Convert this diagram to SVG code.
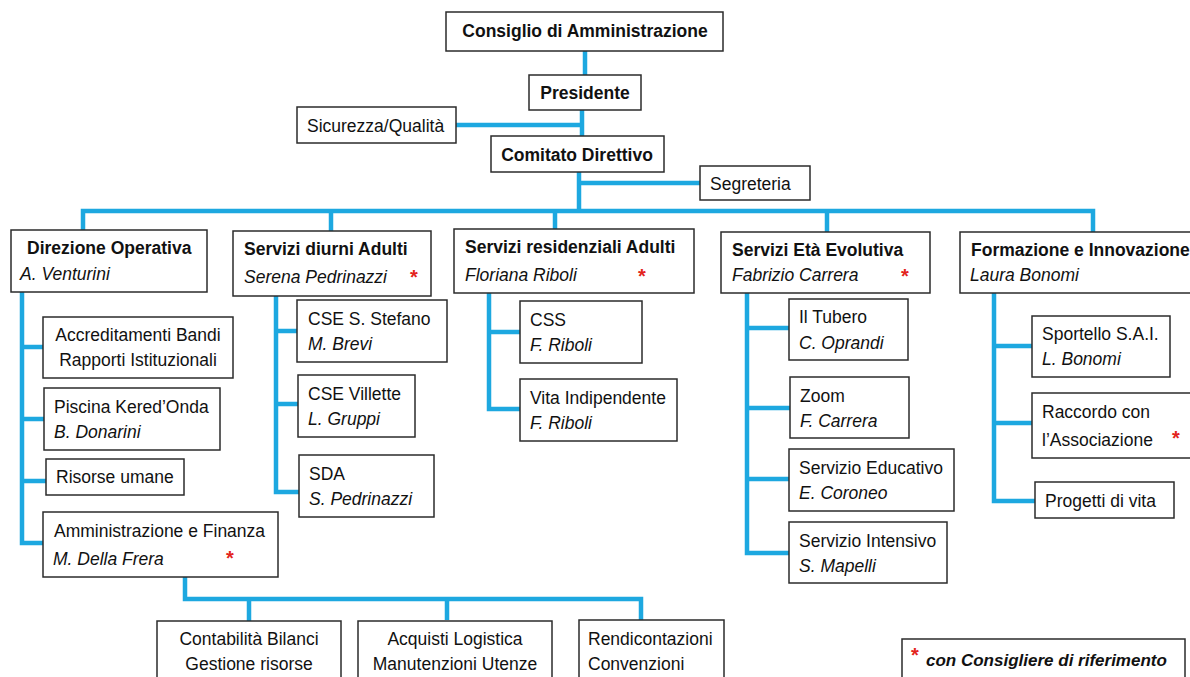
<svg xmlns="http://www.w3.org/2000/svg" width="1190" height="677" viewBox="0 0 1190 677">
<style>
.box{fill:#fff;stroke:#2b2b2b;stroke-width:1.5}
.c{fill:none;stroke:#1da8e0;stroke-width:4.5;stroke-linejoin:miter;stroke-linecap:butt}
text{font-family:"Liberation Sans",Arial,sans-serif;font-size:17.5px;fill:#111}
.b{font-weight:bold}
.i{font-style:italic}
.m{text-anchor:middle}
.s{fill:#e3241d;font-size:20px;font-weight:bold}
</style>
<rect width="1190" height="677" fill="#fff"/>
<g id="connectors">
<path class="c" d="M585,51V75"/>
<path class="c" d="M582,110V136"/>
<path class="c" d="M456,125H582"/>
<path class="c" d="M579,172V211"/>
<path class="c" d="M579,183H700"/>
<path class="c" d="M83,231V211H1093V232"/>
<path class="c" d="M331,211V231"/>
<path class="c" d="M555,211V229"/>
<path class="c" d="M827,211V232"/>
<path class="c" d="M22,292V543H43M22,347H43M22,419H44M22,481H46"/>
<path class="c" d="M185,577V599H641V620M249,599V621M447,599V620"/>
<path class="c" d="M276,296V492H299M276,331H297M276,404H298"/>
<path class="c" d="M489,293V409H520M489,332H520"/>
<path class="c" d="M747,293V553H789M747,328H789M747,408H790M747,479H789"/>
<path class="c" d="M994,293V501H1035M994,346H1032M994,423H1032"/>
</g>
<g id="consiglio"><rect class="box" x="446" y="12" width="277" height="39"/><text class="b m" x="585" y="37">Consiglio di Amministrazione</text></g>
<g id="presidente"><rect class="box" x="529" y="75" width="112" height="35"/><text class="b m" x="585" y="99">Presidente</text></g>
<g id="sicurezza"><rect class="box" x="297" y="107" width="159" height="36"/><text x="307" y="132">Sicurezza/Qualità</text></g>
<g id="comitato"><rect class="box" x="491" y="136" width="173" height="36"/><text class="b m" x="577" y="161">Comitato Direttivo</text></g>
<g id="segreteria"><rect class="box" x="700" y="166" width="110" height="34"/><text x="710" y="190">Segreteria</text></g>

<g id="direzione"><rect class="box" x="11" y="230" width="196" height="62"/><text class="b" x="27" y="254">Direzione Operativa</text><text class="i" x="20" y="280">A. Venturini</text></g>
<g id="accreditamenti"><rect class="box" x="43" y="317" width="190" height="61"/><text class="m" x="138" y="341">Accreditamenti Bandi</text><text class="m" x="138" y="366">Rapporti Istituzionali</text></g>
<g id="piscina"><rect class="box" x="44" y="388" width="176" height="62"/><text x="54" y="413">Piscina Kered’Onda</text><text class="i" x="54" y="438">B. Donarini</text></g>
<g id="risorse"><rect class="box" x="46" y="459" width="138" height="36"/><text x="56" y="483">Risorse umane</text></g>
<g id="amministrazione"><rect class="box" x="43" y="512" width="235" height="65"/><text x="54" y="537">Amministrazione e Finanza</text><text class="i" x="53" y="565">M. Della Frera</text><text class="s" x="226" y="565">*</text></g>
<g id="contabilita"><rect class="box" x="157" y="621" width="184" height="60"/><text class="m" x="249" y="645">Contabilità Bilanci</text><text class="m" x="249" y="670">Gestione risorse</text></g>
<g id="acquisti"><rect class="box" x="358" y="621" width="194" height="60"/><text class="m" x="455" y="645">Acquisti Logistica</text><text class="m" x="455" y="670">Manutenzioni Utenze</text></g>
<g id="rendicontazioni"><rect class="box" x="579" y="620" width="145" height="61"/><text x="588" y="645">Rendicontazioni</text><text x="588" y="670">Convenzioni</text></g>

<g id="diurni"><rect class="box" x="233" y="231" width="198" height="65"/><text class="b" x="244" y="255">Servizi diurni Adulti</text><text class="i" x="244" y="283">Serena Pedrinazzi</text><text class="s" x="410" y="284">*</text></g>
<g id="stefano"><rect class="box" x="297" y="300" width="150" height="62"/><text x="308" y="325">CSE S. Stefano</text><text class="i" x="308" y="350">M. Brevi</text></g>
<g id="villette"><rect class="box" x="298" y="375" width="117" height="62"/><text x="308" y="400">CSE Villette</text><text class="i" x="308" y="425">L. Gruppi</text></g>
<g id="sda"><rect class="box" x="299" y="455" width="135" height="62"/><text x="309" y="480">SDA</text><text class="i" x="309" y="505">S. Pedrinazzi</text></g>

<g id="residenziali"><rect class="box" x="454" y="229" width="240" height="64"/><text class="b" x="465" y="253">Servizi residenziali Adulti</text><text class="i" x="465" y="281">Floriana Riboli</text><text class="s" x="638" y="283">*</text></g>
<g id="css"><rect class="box" x="520" y="301" width="122" height="62"/><text x="530" y="326">CSS</text><text class="i" x="530" y="351">F. Riboli</text></g>
<g id="vita"><rect class="box" x="520" y="379" width="157" height="62"/><text x="530" y="404">Vita Indipendente</text><text class="i" x="530" y="429">F. Riboli</text></g>

<g id="evolutiva"><rect class="box" x="721" y="232" width="209" height="61"/><text class="b" x="732" y="256">Servizi Età Evolutiva</text><text class="i" x="732" y="281">Fabrizio Carrera</text><text class="s" x="901" y="283">*</text></g>
<g id="tubero"><rect class="box" x="789" y="299" width="119" height="61"/><text x="799" y="323">Il Tubero</text><text class="i" x="799" y="349">C. Oprandi</text></g>
<g id="zoom"><rect class="box" x="790" y="377" width="119" height="61"/><text x="800" y="402">Zoom</text><text class="i" x="800" y="427">F. Carrera</text></g>
<g id="educativo"><rect class="box" x="789" y="449" width="165" height="62"/><text x="799" y="474">Servizio Educativo</text><text class="i" x="799" y="499">E. Coroneo</text></g>
<g id="intensivo"><rect class="box" x="789" y="522" width="158" height="61"/><text x="799" y="547">Servizio Intensivo</text><text class="i" x="799" y="572">S. Mapelli</text></g>

<g id="formazione"><rect class="box" x="960" y="232" width="240" height="61"/><text class="b" x="971" y="256">Formazione e Innovazione</text><text class="i" x="970" y="281">Laura Bonomi</text></g>
<g id="sportello"><rect class="box" x="1032" y="316" width="138" height="61"/><text x="1042" y="340">Sportello S.A.I.</text><text class="i" x="1042" y="365">L. Bonomi</text></g>
<g id="raccordo"><rect class="box" x="1032" y="393" width="168" height="65"/><text x="1042" y="418">Raccordo con</text><text x="1042" y="446">l’Associazione</text><text class="s" x="1172" y="445">*</text></g>
<g id="progetti"><rect class="box" x="1035" y="482" width="139" height="36"/><text x="1045" y="507">Progetti di vita</text></g>

<g id="legenda"><rect class="box" x="902" y="639" width="283" height="45"/><text class="s" x="911" y="662">*</text><text class="b i" x="926" y="666" style="font-size:17px">con Consigliere di riferimento</text></g>
</svg>
